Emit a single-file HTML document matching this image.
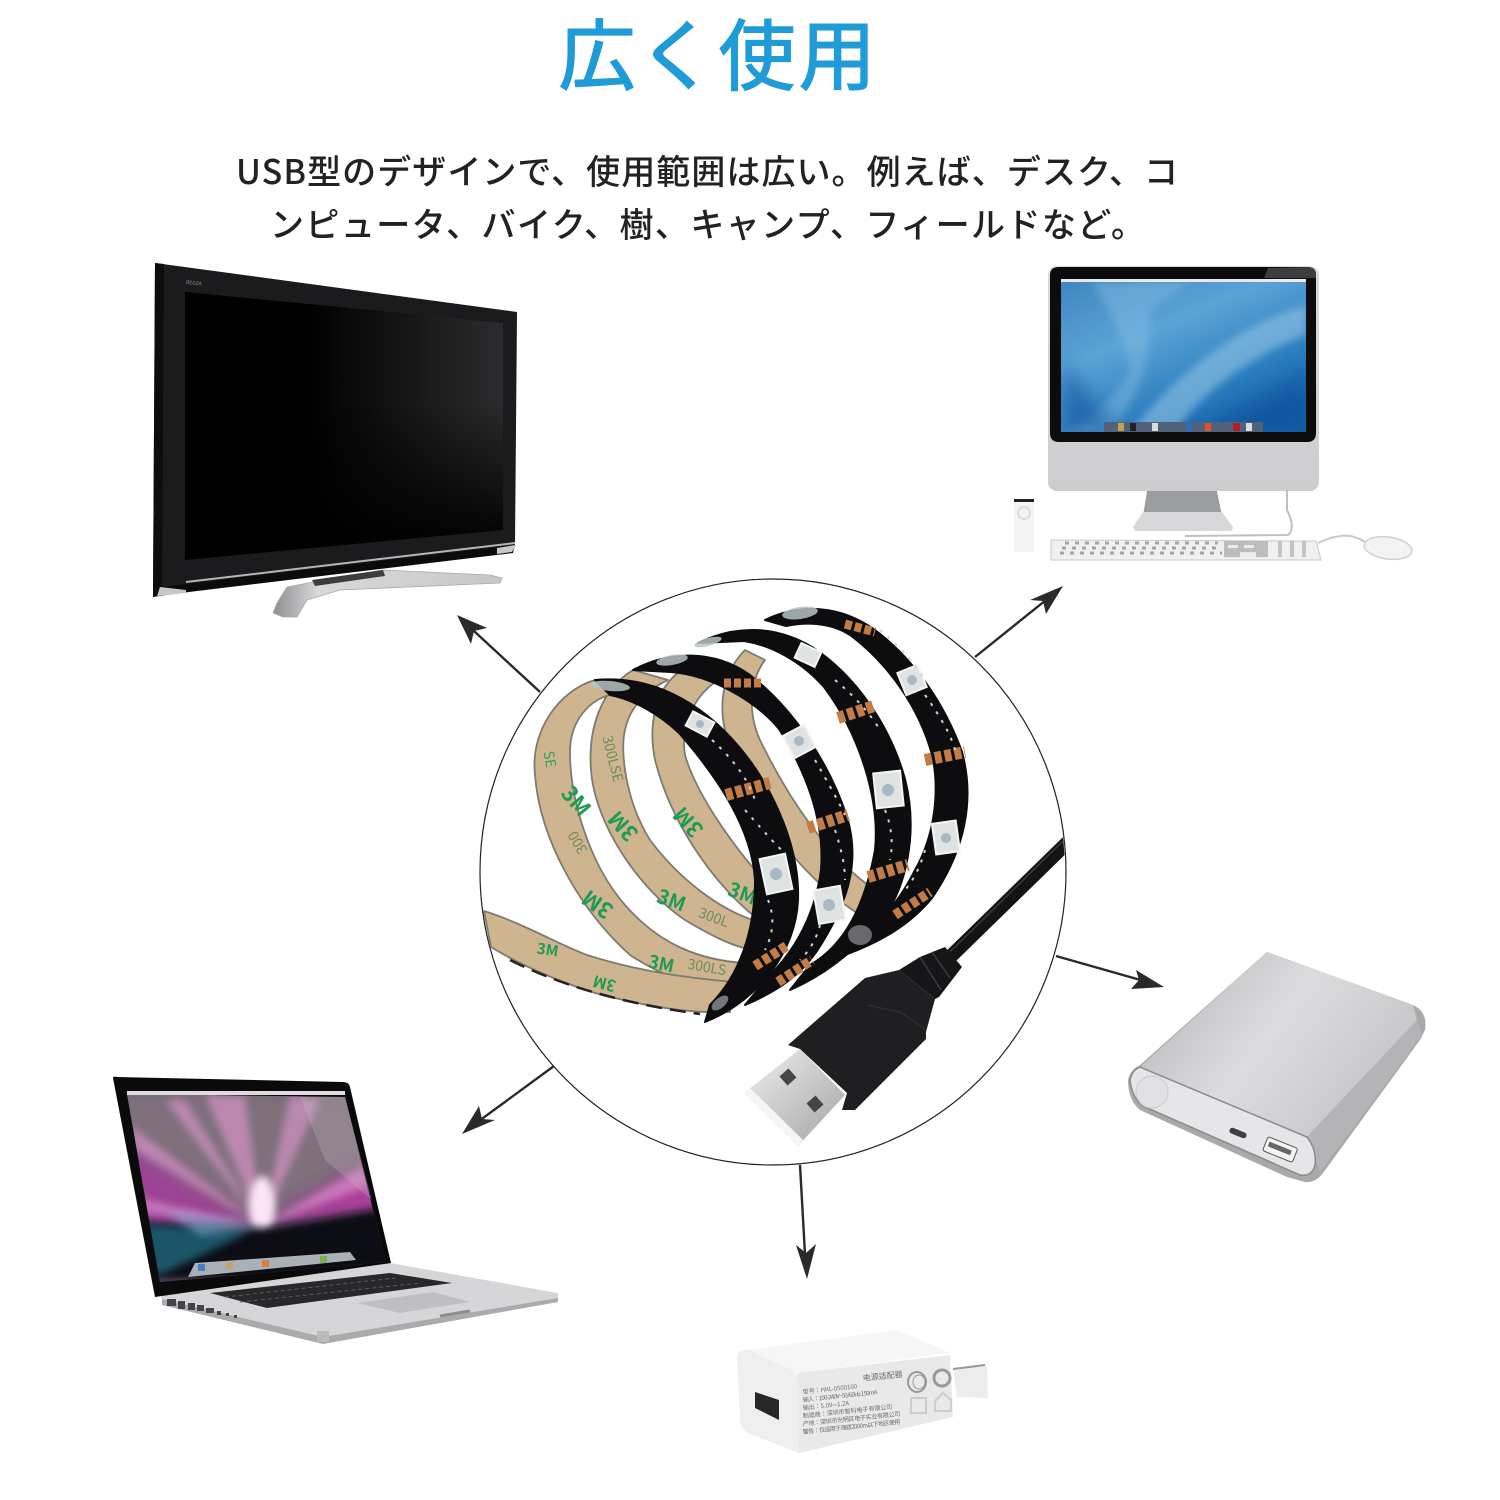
<!DOCTYPE html>
<html lang="ja"><head><meta charset="utf-8"><title>広く使用</title>
<style>html,body{margin:0;padding:0;background:#fff}svg{display:block}
text{font-family:"Noto Sans CJK JP","Liberation Sans",sans-serif}</style></head>
<body>
<svg xmlns="http://www.w3.org/2000/svg" width="1500" height="1500" viewBox="0 0 1500 1500">
<defs>
<linearGradient id="tvs" gradientUnits="userSpaceOnUse" x1="310" y1="0" x2="503" y2="0"><stop offset="0" stop-color="#000"/><stop offset="1" stop-color="#2c2c2e"/></linearGradient>
<linearGradient id="tvd" x1="0" y1="0" x2="0" y2="1"><stop offset="0" stop-color="#000" stop-opacity="0"/><stop offset=".9" stop-color="#000" stop-opacity=".9"/></linearGradient>
<linearGradient id="imacs" x1="0" y1="0" x2=".7" y2="1"><stop offset="0" stop-color="#3f86c0"/><stop offset=".4" stop-color="#5aa3d6"/><stop offset=".75" stop-color="#2d7fc0"/><stop offset="1" stop-color="#1460a8"/></linearGradient>
<linearGradient id="silver" x1="0" y1="0" x2="0" y2="1"><stop offset="0" stop-color="#d9d9db"/><stop offset="1" stop-color="#cdcdcf"/></linearGradient>
<linearGradient id="pb" x1="0" y1="0" x2="1" y2=".5"><stop offset="0" stop-color="#b2b3b5"/><stop offset=".55" stop-color="#dcdcde"/><stop offset="1" stop-color="#c6c6c8"/></linearGradient>
<linearGradient id="metal" x1="0" y1="0" x2="1" y2="1"><stop offset="0" stop-color="#f0f0f0"/><stop offset="1" stop-color="#a3a3a3"/></linearGradient>
<linearGradient id="stand" x1="0" y1="0" x2="1" y2="0"><stop offset="0" stop-color="#8f8f91"/><stop offset=".2" stop-color="#d9d9db"/><stop offset="1" stop-color="#c7c7c9"/></linearGradient>
<filter id="b4" x="-20%" y="-20%" width="140%" height="140%"><feGaussianBlur stdDeviation="4"/></filter>
<filter id="b9" x="-30%" y="-30%" width="160%" height="160%"><feGaussianBlur stdDeviation="9"/></filter>
<clipPath id="lapclip"><path d="M127 1094 L345 1097 L386 1262 L160 1282 Z"/></clipPath>
<clipPath id="imacclip"><rect x="1061" y="282" width="245" height="150"/></clipPath>
<clipPath id="circ"><circle cx="773" cy="872" r="292"/></clipPath>
</defs>

<text x="558" y="84" font-size="78" fill="#1f9bd7" font-weight="500" textLength="318" lengthAdjust="spacing">広く使用</text>
<text x="236" y="184" font-size="34" fill="#222" font-weight="500" textLength="942" lengthAdjust="spacing">USB型のデザインで、使用範囲は広い。例えば、デスク、コ</text>
<text x="270" y="237" font-size="34" fill="#222" font-weight="500" textLength="875" lengthAdjust="spacing">ンピュータ、バイク、樹、キャンプ、フィールドなど。</text>

<!-- TV -->
<path d="M155 263 L517 312 L515 545 L153 597 Z" fill="#1b1b1d"/>
<path d="M155 263 L164 264 L162 595 L153 597 Z" fill="#0d0d0e"/>
<path d="M185 292 L503 323 L503 530 L185 560 Z" fill="#000"/>
<path d="M310 304 L503 323 L503 530 L310 548 Z" fill="url(#tvs)"/>
<path d="M310 400 L503 400 L503 530 L310 548 Z" fill="url(#tvd)"/>
<text x="186" y="284" font-size="5" fill="#999" transform="rotate(5 186 284)">REGZA</text>
<path d="M160 587 L515 545 L513 553 L164 595 L157 596 Z" fill="#0b0b0c"/>
<path d="M186 581 L515 542 L515 544 L186 583 Z" fill="#b5b5b7"/>
<path d="M160 587 L186 590 L186 593 L157 596 Z" fill="#c8c8ca"/>
<path d="M497 548 L516 545 L512 552 L497 554 Z" fill="#c8c8ca"/>
<path d="M273 613 L283 617 L297 617 L307 600 L340 590 L500 583 L502 578 L490 575 L383 570 L340 577 L287 587 L277 603 Z" fill="url(#stand)" stroke="#a8a8aa" stroke-width=".8" stroke-linejoin="round"/>
<path d="M312 580 L383 570 L385 576 L315 586 Z" fill="#3d3d3f"/>

<!-- iMac -->
<rect x="1048" y="266" width="271" height="225" rx="9" fill="url(#silver)"/>
<path d="M1050 275 Q1050 267 1059 267 L1307 267 Q1316 267 1316 275 L1316 433 Q1316 442 1307 442 L1059 442 Q1050 442 1050 433 Z" fill="#0c0c0d"/>
<path d="M1268 268 L1307 267 Q1316 267 1316 275 L1316 278 L1264 278 Z" fill="#3d3d3f"/>
<rect x="1061" y="280" width="245" height="152" fill="url(#imacs)"/>
<rect x="1061" y="279" width="245" height="3" fill="#eaeaea"/>
<g clip-path="url(#imacclip)">
<path d="M1092 282 C1115 320 1125 345 1130 370 C1118 395 1090 420 1065 432 L1110 432 C1140 400 1155 345 1150 310 L1190 282 Z" fill="#8fc2e4" opacity=".4" filter="url(#b4)"/>
<path d="M1130 432 C1180 370 1240 325 1306 305 L1306 335 C1250 355 1200 395 1175 432 Z" fill="#a5d0ea" opacity=".5" filter="url(#b4)"/>
<path d="M1061 432 L1061 360 L1120 432 Z M1200 432 L1306 375 V432 Z" fill="#0f4f97" opacity=".55" filter="url(#b9)"/>
</g>
<rect x="1104" y="422" width="159" height="10" fill="#50617a"/>
<g><rect x="1118" y="423" width="6" height="8" fill="#c9a24f"/><rect x="1130" y="423" width="6" height="8" fill="#222"/><rect x="1152" y="423" width="6" height="8" fill="#ddd"/><rect x="1205" y="423" width="6" height="8" fill="#e05030"/><rect x="1233" y="423" width="7" height="8" fill="#b31c24"/><rect x="1186" y="423" width="6" height="8" fill="#2b6fc2"/><rect x="1246" y="423" width="6" height="8" fill="#ddd"/></g>
<path d="M1147 491 L1217 491 L1222 516 L1143 516 Z" fill="#9c9d9f"/>
<path d="M1143 512 L1222 512 L1233 527 L1232 531 L1135 531 L1133 527 Z" fill="#d8d8da"/>
<path d="M1287 490 L1287 510 Q1296 528 1288 535 L1185 536" fill="none" stroke="#c0c0c0" stroke-width="2"/>
<path d="M1051 540 L1316 541 L1321 560 L1051 560 Z" fill="#f0f0f0" stroke="#c9c9c9"/>
<g stroke="#a5a5a5" stroke-width="3" stroke-dasharray="4 6" fill="none"><path d="M1065 543 H1218"/><path d="M1062 548 H1220"/><path d="M1060 553 H1222"/></g>
<path d="M1224 541 H1268 V557 H1224 Z" fill="#bdbdbd"/><path d="M1228 545 h10 v3 h-10zM1244 545 h10 v3 h-10zM1240 552 h16 v5 h-16z" fill="#ececec"/>
<g fill="#c2c2c2"><rect x="1278" y="541" width="4" height="16"/><rect x="1290" y="541" width="4" height="16"/><rect x="1302" y="541" width="4" height="16"/></g>
<path d="M1318 543 C1335 535 1350 532 1365 542" fill="none" stroke="#c8c8c8" stroke-width="2"/>
<ellipse cx="1388" cy="548" rx="24" ry="11" transform="rotate(8 1388 548)" fill="#f3f3f3" stroke="#d0d0d0" stroke-width="1.5"/>
<rect x="1014" y="499" width="20" height="53" fill="#f4f4f4"/><rect x="1014" y="499" width="20" height="3" fill="#222"/><circle cx="1024" cy="513" r="6" fill="none" stroke="#ddd" stroke-width="2"/>

<!-- Circle + arrows -->
<circle cx="773" cy="872" r="293" fill="#fff" stroke="#222" stroke-width="1.2"/>
<g stroke="#2a2a2a" stroke-width="2.4" fill="none">
<path d="M540 692 L462 620"/><path d="M975 657 L1056 592"/><path d="M1056 956 L1158 985"/><path d="M554 1066 L468 1129"/><path d="M800 1165 L806 1272"/>
</g>
<g fill="#2a2a2a">
<path d="M457 615 L487 628 L474 631 L471 644 Z"/>
<path d="M1063 586 L1046 614 L1043 601 L1030 600 Z"/>
<path d="M1164 987 L1131 989 L1139 980 L1136 970 Z"/>
<path d="M462 1134 L479 1106 L482 1119 L495 1120 Z"/>
<path d="M807 1279 L796 1245 L806 1253 L816 1244 Z"/>
</g>

<!-- LED strip: adhesive backing -->
<g fill="#cfb58f" stroke="#7d7a70" stroke-width="1.8" stroke-linejoin="round">
<path d="M745 650 C725 670 718 700 725 730 C740 790 790 870 860 915 L875 890 C830 860 790 800 765 750 C745 715 750 680 765 660 Z"/>
<path d="M679 672 C655 690 648 725 655 760 C670 820 710 880 755 917 L759 875 C725 835 695 790 685 755 C680 725 695 695 717 681 Z"/>
<path d="M633 670 C600 690 588 730 591 770 C595 825 640 890 685 920 C710 935 730 945 748 949 L756 921 C720 910 680 880 650 840 C625 800 620 750 625 730 C630 705 650 688 668 680 Z"/>
<path d="M595 680 C560 690 530 730 535 775 C540 840 580 910 630 955 C660 975 700 990 729 993 L744 963 C700 960 660 945 625 905 C590 865 570 800 570 752 C570 720 590 700 610 695 Z"/>
<path d="M484 911 C520 922 560 945 587 955 C640 972 690 978 733 982 L730 1012 C690 1014 640 1005 595 993 C560 982 520 965 491 947 Z"/>
</g>
<path d="M510 960 C560 985 620 1003 700 1014" fill="none" stroke="#222" stroke-width="2.5" stroke-dasharray="16 8"/>
<g text-anchor="middle" font-weight="700" fill="#1f9a55" style="font-size:20px">
<text transform="translate(570 806) rotate(50)" font-size="22">3M</text>
<text transform="translate(629 821) rotate(228)" font-size="22">3M</text>
<text transform="translate(694 817) rotate(228)" font-size="22">3M</text>
<text transform="translate(602 898) rotate(215)" font-size="22">3M</text>
<text transform="translate(669 907) rotate(20)" font-size="20">3M</text>
<text transform="translate(740 900) rotate(20)" font-size="20">3M</text>
<text transform="translate(547 955) rotate(8)" font-size="15">3M</text>
<text transform="translate(660 970) rotate(12)" font-size="18">3M</text>
<text transform="translate(606 978) rotate(195)" font-size="16">3M</text>
</g>
<g text-anchor="middle" fill="#6e8a62" style="font-family:'Liberation Serif',serif;font-size:14px">
<text transform="translate(545 760) rotate(80)" fill="#3a9e63">SE</text>
<text transform="translate(608 760) rotate(76)">300LSE</text>
<text transform="translate(582 840) rotate(240)">300</text>
<text transform="translate(712 922) rotate(20)">300L</text>
<text transform="translate(706 972) rotate(10)">300LS</text>
</g>

<!-- LED strip: black bands -->
<g fill="#0d0d0f" stroke="#0d0d0f" stroke-width="2" stroke-linejoin="round">
<path d="M765 620 C800 603 840 605 875 630 C915 660 945 705 962 752 C975 800 965 850 932 898 C910 925 880 942 845 955 L860 935 C890 915 905 890 915 870 C935 835 940 790 932 755 C920 710 890 665 850 635 C830 622 805 622 786 626 Z"/>
<path d="M698 643 C735 625 775 625 812 647 C855 675 890 725 905 779 C918 830 908 890 878 924 C855 950 825 975 790 990 L810 965 C845 945 865 905 875 850 C880 800 860 735 824 687 C800 660 770 645 744 641 Z"/>
<path d="M633 670 C670 650 715 650 750 675 C795 710 830 765 847 817 C860 860 850 900 817 951 C800 975 780 990 745 1005 L770 975 C795 950 815 915 821 870 C825 820 805 770 779 729 C755 700 710 675 671 672 Z"/>
<path d="M595 680 C650 675 700 700 740 748 C775 790 800 850 798 900 C796 950 760 1000 705 1022 L710 1005 C740 975 755 930 755 880 C752 830 720 780 679 733 C660 715 635 700 610 695 Z"/>
</g>
<g fill="#b9c3c4" opacity=".85">
<ellipse cx="800" cy="613" rx="18" ry="6" transform="rotate(-8 800 613)"/>
<ellipse cx="708" cy="642" rx="14" ry="4" transform="rotate(-15 708 642)"/>
<ellipse cx="672" cy="660" rx="16" ry="5" transform="rotate(-10 672 660)"/>
<ellipse cx="610" cy="686" rx="20" ry="5" transform="rotate(5 610 686)"/>
<ellipse cx="720" cy="1003" rx="10" ry="5" transform="rotate(-40 720 1003)" fill="#8a8a8c"/>
<ellipse cx="860" cy="935" rx="12" ry="10" fill="#7a7a7c"/>
</g>
<!-- pads -->
<g fill="none" stroke="#c27c45" stroke-width="12" stroke-dasharray="7 3">
<path d="M726 795 L770 783"/><path d="M808 828 L848 815"/><path d="M838 718 L874 706"/><path d="M868 877 L908 865"/><path d="M925 760 L965 752"/><path d="M724 683 L762 683" stroke-width="9"/><path d="M845 624 L875 632" stroke-width="9"/><path d="M755 966 L788 945" stroke-width="10"/><path d="M778 982 L812 960" stroke-width="10"/><path d="M895 915 L930 892" stroke-width="10"/>
</g>
<!-- LEDs -->
<g fill="#dfe3e3" stroke="#f5f5f5" stroke-width="2">
<rect x="688" y="716" width="24" height="16" transform="rotate(28 700 724)"/>
<rect x="763" y="856" width="26" height="36" transform="rotate(-12 776 874)"/>
<rect x="787" y="729" width="24" height="25" transform="rotate(-28 799 741)"/>
<rect x="816" y="888" width="27" height="34" transform="rotate(-10 829 905)"/>
<rect x="797" y="647" width="22" height="16" transform="rotate(25 808 655)"/>
<rect x="875" y="772" width="27" height="35" transform="rotate(-6 888 790)"/>
<rect x="901" y="668" width="22" height="24" transform="rotate(-22 912 680)"/>
<rect x="934" y="822" width="24" height="31" transform="rotate(-8 946 838)"/>
</g>
<g fill="#aab9c4"><circle cx="700" cy="724" r="4"/><circle cx="776" cy="874" r="6"/><circle cx="799" cy="741" r="5"/><circle cx="829" cy="905" r="6"/><circle cx="888" cy="790" r="6"/><circle cx="912" cy="680" r="5"/><circle cx="946" cy="838" r="5"/></g>
<g stroke="#cfd3d3" stroke-width="2" stroke-dasharray="3 7" fill="none">
<path d="M712 740 Q745 770 755 800"/><path d="M745 810 Q780 850 782 850"/><path d="M815 760 Q838 800 845 815"/><path d="M835 830 Q845 860 845 880"/><path d="M835 680 Q865 705 880 730"/><path d="M925 695 Q950 730 955 750"/><path d="M885 810 Q895 835 890 860"/><path d="M768 900 Q778 925 765 950"/><path d="M820 925 Q815 945 800 960"/><path d="M925 850 Q918 875 905 890"/><path d="M880 630 Q905 650 925 680"/>
</g>

<!-- Cable + USB -->
<g clip-path="url(#circ)">
<path d="M945 962 L1070 840" fill="none" stroke="#141416" stroke-width="14"/>
<path d="M950 952 L1070 834" fill="none" stroke="#3a3a3c" stroke-width="1.5"/>
</g>
<path d="M899 970 L920 957 L945 947 L962 967 L939 997 L935 999 Z" fill="#161618"/>
<g stroke="#3c3c3e" stroke-width="1.5" fill="none"><path d="M920 957 L941 990"/><path d="M932 952 L950 978"/></g>
<path d="M788 1045 L865 978 L899 970 L935 999 L926 1032 L926 1039 L855 1110 L842 1110 L847 1093 L800 1049 Z" fill="#1f1f21"/>
<path d="M867 1005 L900 1012 L926 1030" stroke="#343436" fill="none"/>
<path d="M800 1049 L845 1095 L798 1146 L744 1093 Z" fill="url(#metal)"/>
<path d="M744 1093 L798 1146 L803 1140 L750 1088 Z" fill="#f6f6f6"/>
<rect x="782" y="1071" width="12" height="12" fill="#454545" transform="rotate(-42 788 1077)"/>
<rect x="809" y="1098" width="12" height="12" fill="#454545" transform="rotate(-42 815 1104)"/>

<!-- Power bank -->
<path d="M1267 952 L1413 1005 Q1428 1012 1425 1030 L1420 1040 L1323 1173 Q1316 1183 1305 1182 L1287 1177 L1140 1110 Q1128 1100 1128 1080 Q1130 1070 1140 1065 Z" fill="#a9a9ab"/>
<path d="M1267 952 L1413 1005 L1417 1020 L1307 1137 L1140 1067 Z" fill="url(#pb)"/>
<path d="M1417 1020 L1422 1035 L1320 1172 L1312 1150 L1307 1137 Z" fill="#b4b4b6"/>
<path d="M1130 1080 Q1132 1070 1140 1067 L1307 1137 Q1317 1150 1315 1165 Q1312 1177 1300 1175 L1143 1106 Q1132 1098 1130 1080 Z" fill="#e6e6e8" stroke="#8b8b8d" stroke-width="1.5"/>
<circle cx="1152" cy="1092" r="16" fill="#e1e1e3" stroke="#c9c9cb"/>
<rect x="1264" y="1142" width="32" height="15" rx="2" fill="#f4f4f4" stroke="#555" transform="rotate(22 1280 1150)"/>
<rect x="1268" y="1146" width="24" height="5" fill="#66676a" transform="rotate(22 1280 1148)"/>
<rect x="1229" y="1130" width="18" height="6" rx="3" fill="#3e3f42" transform="rotate(22 1238 1133)"/>

<!-- Laptop -->
<path d="M161 1293 L390 1263 L558 1293 L558 1302 L323 1343 L162 1303 Z" fill="#d6d6d8"/>
<path d="M162 1299 L323 1337 L558 1298 L558 1302 L323 1344 L162 1305 Z" fill="#ababad"/>
<path d="M113 1078 Q113 1076 117 1077 L343 1082 Q349 1082 350 1087 L391 1263 L155 1297 Z" fill="#0a0a0b"/>
<path d="M127 1094 L345 1097 L386 1262 L160 1282 Z" fill="#6e5f78"/>
<g clip-path="url(#lapclip)">
<path d="M100 1090 H380 V1160 L262 1226 L100 1190 Z" fill="#7f6f7c" filter="url(#b9)"/>
<path d="M110 1135 L262 1226 L120 1235 Z" fill="#a13a9a" opacity=".85" filter="url(#b9)"/>
<path d="M400 1145 L262 1226 L400 1215 Z" fill="#b03a9e" opacity=".9" filter="url(#b9)"/>
<path d="M262 1226 L205 1095 L245 1095 Z M262 1226 L290 1095 L320 1100 Z M262 1226 L135 1150 L130 1125 Z M262 1226 L365 1165 L372 1185 Z M262 1226 L140 1198 L140 1212 Z M262 1226 L165 1100 L185 1100 Z" fill="#e39ad2" opacity=".6" filter="url(#b4)"/>
<ellipse cx="262" cy="1206" rx="13" ry="30" fill="#fbe6f5" filter="url(#b4)"/>
<path d="M120 1222 Q190 1225 265 1228 L400 1205 V1280 H120 Z" fill="#0a0a14" filter="url(#b4)"/>
<path d="M120 1225 Q180 1225 250 1232 L160 1275 L130 1270 Z" fill="#1c5f72" opacity=".9" filter="url(#b4)"/>
<path d="M165 1212 Q200 1212 262 1228 L200 1235 Z" fill="#8cb0d8" opacity=".6" filter="url(#b4)"/>
</g>
<path d="M345 1097 L300 1097 L325 1160 L372 1200 Z" fill="#cbc5c9" opacity=".25"/>
<path d="M188 1277 L195 1263 L350 1252 L356 1260 Z" fill="#aab0b8"/>
<g><rect x="198" y="1264" width="7" height="7" fill="#4a7fc0"/><rect x="226" y="1262" width="7" height="7" fill="#c8a070"/><rect x="262" y="1260" width="7" height="7" fill="#d88040"/><rect x="320" y="1256" width="7" height="7" fill="#7ab050"/></g>
<path d="M127 1091 H345 V1095 H127 Z" fill="#e0dae0"/>
<path d="M210 1293 L390 1273 L452 1283 L267 1308 Z" fill="#28282a"/>
<g stroke="#5a5a5c" stroke-width="1" stroke-dasharray="4 3" fill="none"><path d="M225 1297 L395 1278"/><path d="M240 1302 L420 1283"/></g>
<path d="M357 1303 L433 1292 L470 1302 L400 1313 Z" fill="#bfbfc1"/>
<path d="M440 1316 L470 1311" stroke="#8d8d8f" stroke-width="3"/>
<g fill="#44454a"><rect x="167" y="1299" width="9" height="7"/><rect x="178" y="1301" width="7" height="8"/><rect x="188" y="1303" width="7" height="7"/><rect x="197" y="1305" width="7" height="6"/><rect x="206" y="1308" width="8" height="5"/><rect x="217" y="1311" width="4" height="4"/><rect x="226" y="1313" width="3" height="3"/><rect x="234" y="1315" width="3" height="3"/></g>
<path d="M317 1331 h12 v11 h-12 z" fill="#bbb"/>

<!-- Charger -->
<path d="M953 1368 L987 1365 L988 1398 L957 1397 Z" fill="#ececec"/>
<path d="M953 1369 L985 1365" stroke="#999" stroke-width="2"/>
<path d="M747 1350 L897 1330 L950 1353 L797 1373 Z" fill="#f6f6f6"/>
<path d="M797 1373 L950 1355 L953 1417 L799 1453 Z" fill="#e9e9e9"/>
<path d="M737 1358 Q738 1349 748 1350 L790 1369 Q798 1373 798 1382 L799 1453 L750 1434 Q741 1430 740 1420 Z" fill="#efefef"/>
<path d="M755 1392 L779 1400 L779 1420 L755 1408 Z" fill="#27272a"/>
<g fill="#6c6c6c" font-size="6">
<text x="863" y="1381" font-size="8" transform="rotate(-6 863 1381)">电源适配器</text>
<text x="803" y="1394" transform="rotate(-6 803 1394)">型号：HKL-0500100</text>
<text x="803" y="1402" transform="rotate(-6 803 1402)" textLength="75">输入：100-240V~50/60Hz 150mA</text>
<text x="803" y="1410" transform="rotate(-6 803 1410)">输出：5.0V⎓1.2A</text>
<text x="803" y="1418" transform="rotate(-6 803 1418)" textLength="90">制造商：深圳市智科电子有限公司</text>
<text x="803" y="1426" transform="rotate(-6 803 1426)" textLength="98">产地：深圳市光明区电子实业有限公司</text>
<text x="803" y="1434" transform="rotate(-6 803 1434)" textLength="98">警告：仅适用于海拔2000m以下地区使用</text>
</g>
<g fill="none" stroke="#999" stroke-width="2"><ellipse cx="917" cy="1382" rx="9" ry="10"/><ellipse cx="919" cy="1382" rx="6" ry="7" stroke-width="1"/><circle cx="942" cy="1378" r="8" stroke-width="3"/><rect x="911" y="1398" width="15" height="15" stroke="#ccc"/><path d="M935 1401 L943 1393 L951 1400 V1411 H935 Z" stroke="#ccc"/></g>
</svg>
</body></html>
